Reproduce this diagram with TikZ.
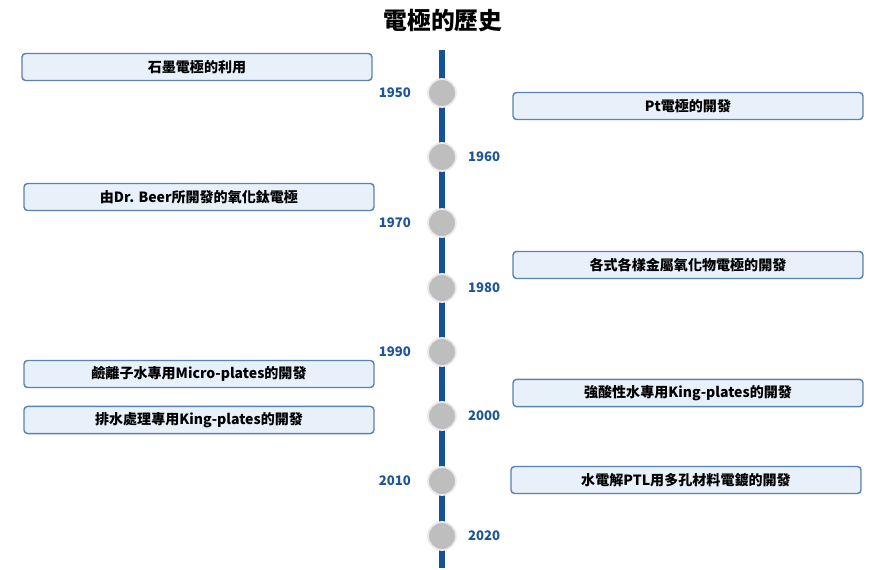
\documentclass[tikz,border=0pt]{standalone}
\usepackage{fontspec}
\setmainfont{Noto Sans CJK TC}
\usetikzlibrary{positioning}
\definecolor{linecolor}{RGB}{22, 82, 150}
\definecolor{yearcolor}{RGB}{30, 85, 150}
\definecolor{boxdraw}{RGB}{90, 130, 180}
\definecolor{boxfill}{RGB}{232, 240, 250}
\definecolor{dotcolor}{RGB}{190, 190, 190}
\tikzstyle{event} = [rectangle, rounded corners=2pt, minimum width=7cm, minimum height=0.54cm, text centered, draw=boxdraw, fill=boxfill, thick, font=\fontsize{8}{9}\selectfont\bfseries]
\tikzstyle{dot} = [circle, minimum size=0.56cm, inner sep=0pt, fill=dotcolor, draw=black!8, line width=1pt]
\tikzstyle{year} = [text=yearcolor, font=\fontsize{7.5}{8}\selectfont\bfseries]

\begin{document}
\begin{tikzpicture}[x=0.02cm, y=-0.02cm]
\useasboundingbox (0,0) rectangle (890,570);

% Titel
\node (title) [font=\fontsize{13.5}{15}\selectfont\bfseries] at (443,21) {電極的歷史};

% Zeitachse
\coordinate (top) at (442,50);
\coordinate (bottom) at (442,568);
\draw [linecolor, line width=3.2pt] (top) -- (bottom);

% Punkte
\node (d1950) [dot] at (442,93) {};
\node (d1960) [dot] at (442,157) {};
\node (d1970) [dot] at (442,223) {};
\node (d1980) [dot] at (442,288) {};
\node (d1990) [dot] at (442,352) {};
\node (d2000) [dot] at (442,416) {};
\node (d2010) [dot] at (442,481) {};
\node (d2020) [dot] at (442,536) {};

% Jahre
\node [year, left=0.2cm of d1950] {1950};
\node [year, right=0.1cm of d1960] {1960};
\node [year, left=0.2cm of d1970] {1970};
\node [year, right=0.1cm of d1980] {1980};
\node [year, left=0.2cm of d1990] {1990};
\node [year, right=0.1cm of d2000] {2000};
\node [year, left=0.2cm of d2010] {2010};
\node [year, right=0.1cm of d2020] {2020};

% Ereignisse
\node (graphite) [event] at (197,67) {石墨電極的利用};
\node (pt) [event] at (688,106) {Pt電極的開發};
\node (beer) [event] at (199,197) {由Dr. Beer所開發的氧化鈦電極};
\node (oxide) [event] at (688,265) {各式各樣金屬氧化物電極的開發};
\node (micro) [event] at (199,374) {鹼離子水專用Micro-plates的開發};
\node (acid) [event] at (688,393) {強酸性水專用King-plates的開發};
\node (waste) [event] at (199,420) {排水處理專用King-plates的開發};
\node (ptl) [event] at (686,480) {水電解PTL用多孔材料電鍍的開發};

\end{tikzpicture}
\end{document}
